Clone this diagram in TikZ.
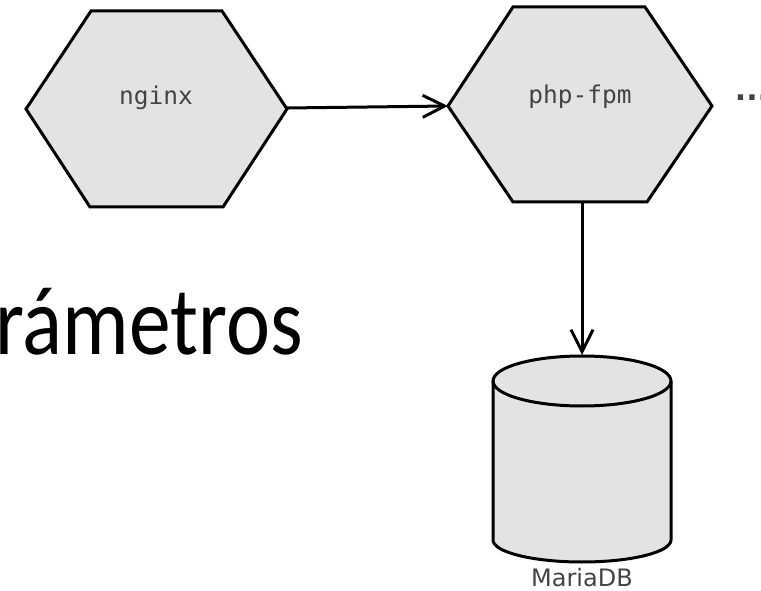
\documentclass[tikz,border=0pt]{standalone}
\usepackage{fontspec}
\newfontfamily\monofont{DejaVu Sans Mono}
\newfontfamily\labelfont{DejaVu Sans}
\newfontfamily\titlefont{Carlito}
\usetikzlibrary{arrows.meta}
\definecolor{boxfill}{HTML}{E3E3E3}
\definecolor{labelgray}{HTML}{444444}
\tikzset{
  box/.style={draw=black, line width=3pt, fill=boxfill},
  link/.style={line width=3pt, -{Straight Barb[length=22pt, width=22pt]}},
  procname/.style={font=\monofont\fontsize{24.5}{24.5}\selectfont, text=labelgray},
}
\begin{document}
\begin{tikzpicture}[x=1pt, y=1pt]
  \useasboundingbox (0,0) rectangle (761,590);
  \draw[box] (26,481)--(91,579)--(222,579)--(287,481)--(223,383)--(90,383)--cycle;
  \draw[box] (448,484)--(513,583)--(645,583)--(712,484)--(647,388)--(513,388)--cycle;
  \draw[box] (493,209) -- (493,50) arc[start angle=180, end angle=360, x radius=89, y radius=22]
    -- (671,209) arc[start angle=0, end angle=180, x radius=89, y radius=25] -- cycle;
  \draw[line width=3pt] (493,209) arc[start angle=180, end angle=360, x radius=89, y radius=25];
  \node[procname] (nginx) at (156,492) {nginx};
  \node[procname] (fpm) at (580,493) {php-fpm};
  \node[font=\labelfont\fontsize{24}{24}\selectfont, text=labelgray, inner sep=0pt] (mariadb) at (582,12) {MariaDB};
  \node[font=\labelfont\bfseries\fontsize{30}{30}\selectfont, text=labelgray, inner sep=0pt] (more) at (752,492) {...};
  \node[font=\titlefont\fontsize{97}{97}\selectfont, anchor=base west, inner sep=0pt, xscale=0.86] (title) at (-5,235) {rámetros};
  \coordinate (nginx-e) at (287,482);
  \coordinate (fpm-w) at (448,484);
  \coordinate (fpm-s) at (582,388);
  \coordinate (db-n) at (582,235);
  \draw[link] (nginx-e) -- (fpm-w);
  \draw[link] (fpm-s) -- (db-n);
\end{tikzpicture}
\end{document}
